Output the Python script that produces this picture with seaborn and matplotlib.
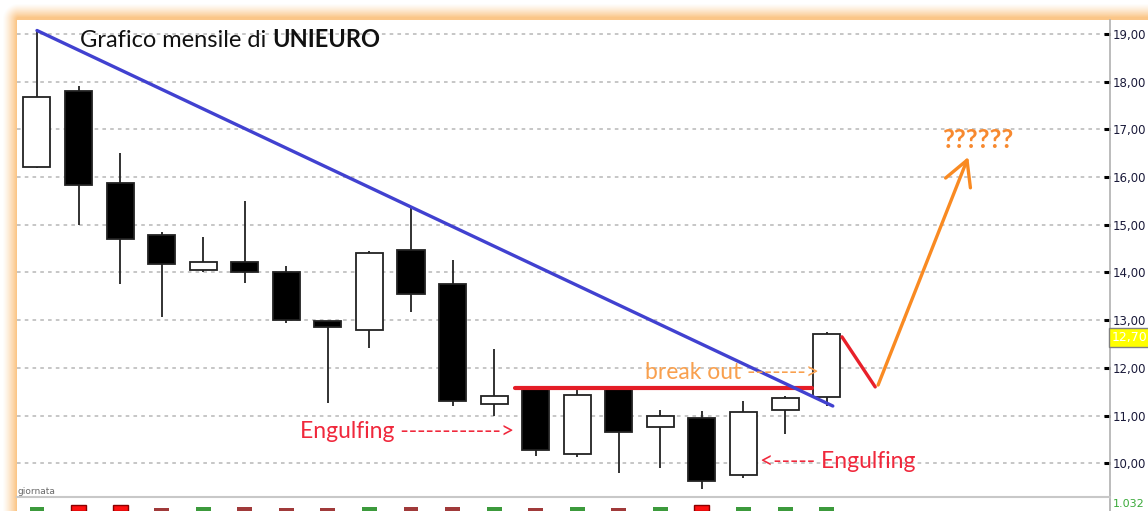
import numpy as np
import pandas as pd
import matplotlib
matplotlib.use("Agg")
import matplotlib.pyplot as plt
from matplotlib.ticker import FuncFormatter
import seaborn as sns

# Monthly candles UNIEURO
months = list(range(1, 21))
open_ = [16.20, 17.80, 15.88, 14.79, 14.05, 14.22, 14.00, 12.98, 12.79, 14.47,
         13.76, 11.24, 11.55, 10.19, 11.55, 10.76, 10.95, 9.75, 11.12, 11.39]
high = [19.07, 17.90, 16.50, 14.85, 14.75, 15.50, 14.14, 12.98, 14.45, 15.35,
        14.25, 12.40, 11.58, 11.55, 11.60, 11.12, 11.10, 11.31, 11.40, 12.75]
low = [16.18, 15.00, 13.76, 13.07, 14.00, 13.78, 12.94, 11.26, 12.42, 13.17,
       11.20, 11.00, 10.15, 10.13, 9.80, 9.90, 9.46, 9.69, 10.61, 11.20]
close = [17.67, 15.83, 14.70, 14.18, 14.22, 14.00, 13.00, 12.86, 14.41, 13.55,
         11.30, 11.41, 10.28, 11.43, 10.66, 10.99, 9.63, 11.08, 11.37, 12.70]
volume = [4, 6, 6, 3, 4, 4, 3, 3, 4, 4, 4, 4, 3, 4, 3, 4, 6, 4, 4, 4]

# hand drawn lines on the chart
trend_x = [1.0, 20.15]
trend_y = [19.07, 11.20]
resist_x = [12.5, 19.65]
resist_y = [11.58, 11.58]
pullback_x = [20.37, 21.17]
pullback_y = [12.65, 11.60]
target_x = [21.24, 23.41]
target_y = [11.64, 16.42]

yticks = [10, 11, 12, 13, 14, 15, 16, 17, 18, 19]

df = pd.DataFrame({"month": months, "open": open_, "high": high,
                   "low": low, "close": close, "volume": volume})
df["up"] = df["close"] >= df["open"]

sns.set_theme(style="white")
plt.rcParams["font.family"] = ["Lato", "DejaVu Sans"]

W, H = 1148, 511
fig = plt.figure(figsize=(W / 100, H / 100), dpi=100)
fig.patch.set_facecolor("white")

# orange glow frame (top and left), drawn in a background axes
yy, xx = np.mgrid[0:H, 0:W].astype(float)
r, x0, y0 = 14.0, 4.0, 5.0
corner = (xx < x0 + r) & (yy < y0 + r)
d = np.where(corner, r - np.hypot(xx - (x0 + r), yy - (y0 + r)),
             np.minimum(xx - x0, yy - y0))
band = (xx < 17) | (yy < 20)
a = np.clip((d + 2) / 14, 0, 1) ** 1.3 * band
orange = np.array([251, 198, 136]) / 255
img = np.ones((H, W, 3)) * (1 - a[..., None]) + orange * a[..., None]
bg = fig.add_axes([0, 0, 1, 1], zorder=-10)
bg.imshow(img, aspect="auto", interpolation="nearest")
bg.set_axis_off()

ax = fig.add_axes([17 / W, 1 - 497 / H, (1110 - 17) / W, (497 - 20) / H])
ax.set_facecolor("white")
ax.set_xlim(0.519, 26.82)
ax.set_ylim(9.293, 19.29)

# grid
ax.set_yticks(yticks)
ax.yaxis.grid(True, color="#c2c2c2", linestyle=(0, (2, 2.3)), linewidth=1.3)
ax.set_xticks([])

# candles
body_w = 0.65
ax.vlines(df["month"], df["low"], df["high"], color="#222222", lw=1.3, zorder=2)
bottoms = df[["open", "close"]].min(axis=1)
heights = (df["close"] - df["open"]).abs()
ax.bar(df["month"], heights, bottom=bottoms, width=body_w,
       color=np.where(df["up"], "white", "black"), edgecolor="#222222",
       linewidth=1.3, zorder=3)

# drawn lines
sns.lineplot(x=trend_x, y=trend_y, ax=ax, color="#4141d0", lw=2.4, zorder=5)
sns.lineplot(x=resist_x, y=resist_y, ax=ax, color="#e41d27", lw=3.0, zorder=4)
sns.lineplot(x=pullback_x, y=pullback_y, ax=ax, color="#e8202a", lw=2.4, zorder=5)
ax.annotate("", xy=(target_x[1], target_y[1]), xytext=(target_x[0], target_y[0]),
            arrowprops=dict(arrowstyle="->,head_length=1.1,head_width=0.6",
                            color="#f98a22", lw=2.4, mutation_scale=16,
                            shrinkA=0, shrinkB=0), zorder=5)

# texts
t1 = ax.text(2.03, 18.73, "Grafico mensile di ", fontsize=17, color="#111111",
             va="baseline", ha="left", zorder=6)
ax.annotate("UNIEURO", xy=(1, 0), xycoords=t1, va="bottom", ha="left",
            fontsize=17, fontweight="bold", color="#111111", zorder=6)
ax.text(7.33, 10.66, "Engulfing ------------>", fontsize=16.5,
        color="#f0283c", va="center", ha="left", zorder=6)
ax.text(15.63, 11.91, "break out ------->", fontsize=16.5,
        color="#f9a04e", va="center", ha="left", zorder=6)
ax.text(18.40, 10.03, "<----- Engulfing", fontsize=16.5,
        color="#f0283c", va="center", ha="left", zorder=6)
ax.text(22.78, 16.78, "??????", fontsize=18.5, fontweight="bold",
        color="#f7892f", va="center", ha="left", zorder=6)

# right price axis
ax.yaxis.tick_right()
ax.yaxis.set_major_formatter(FuncFormatter(lambda v, p: f"{v:.2f}".replace(".", ",")))
ax.tick_params(axis="y", direction="in", length=4.5, width=2.2, color="black",
               pad=2, labelsize=8.5, labelcolor="#1a1a3a", right=True, left=False)
for lab in ax.get_yticklabels():
    lab.set_fontfamily("DejaVu Sans")
for s in ["top", "left"]:
    ax.spines[s].set_visible(False)
ax.spines["right"].set_color("#b0b0b0")
ax.spines["right"].set_linewidth(1.2)
ax.spines["bottom"].set_color("#c8c8c8")
ax.spines["bottom"].set_linewidth(1.5)

ax.text(1.0015, close[-1] - 0.06, f"{close[-1]:.2f}".replace(".", ","),
        transform=ax.get_yaxis_transform(), fontsize=9, color="white",
        family="DejaVu Sans", va="center", ha="left", zorder=7,
        bbox=dict(boxstyle="square,pad=0.25", fc="#ffff00", ec="#808080", lw=1),
        clip_on=False)

fig.text(17 / W, 1 - 491 / H, "giornata", fontsize=6.5, color="#6a6a6a",
         family="DejaVu Sans", va="center", ha="left")

# volume strip
vax = fig.add_axes([17 / W, 0, (1110 - 17) / W, 12 / H])
vax.set_xlim(0.519, 26.82)
vax.set_ylim(0, 12)
vcol = []
for up, v in zip(df["up"], df["volume"]):
    if up:
        vcol.append("#3c9a3c")
    elif v >= 6:
        vcol.append("#ff1010")
    else:
        vcol.append("#a03a3a")
vax.bar(df["month"], df["volume"], width=0.36, color=vcol,
        edgecolor=["#8a0000" if v >= 6 else "none" for v in df["volume"]], lw=1)
vax.set_xticks([])
vax.set_yticks([])
for s in ["top", "left", "bottom"]:
    vax.spines[s].set_visible(False)
vax.spines["right"].set_color("#b0b0b0")
vax.set_facecolor("white")
fig.text(1113 / W, 1 - 504 / H, "1.032", fontsize=8, color="#3aaa3a",
         family="DejaVu Sans", va="center", ha="left")

fig.savefig("out.png", dpi=100)
